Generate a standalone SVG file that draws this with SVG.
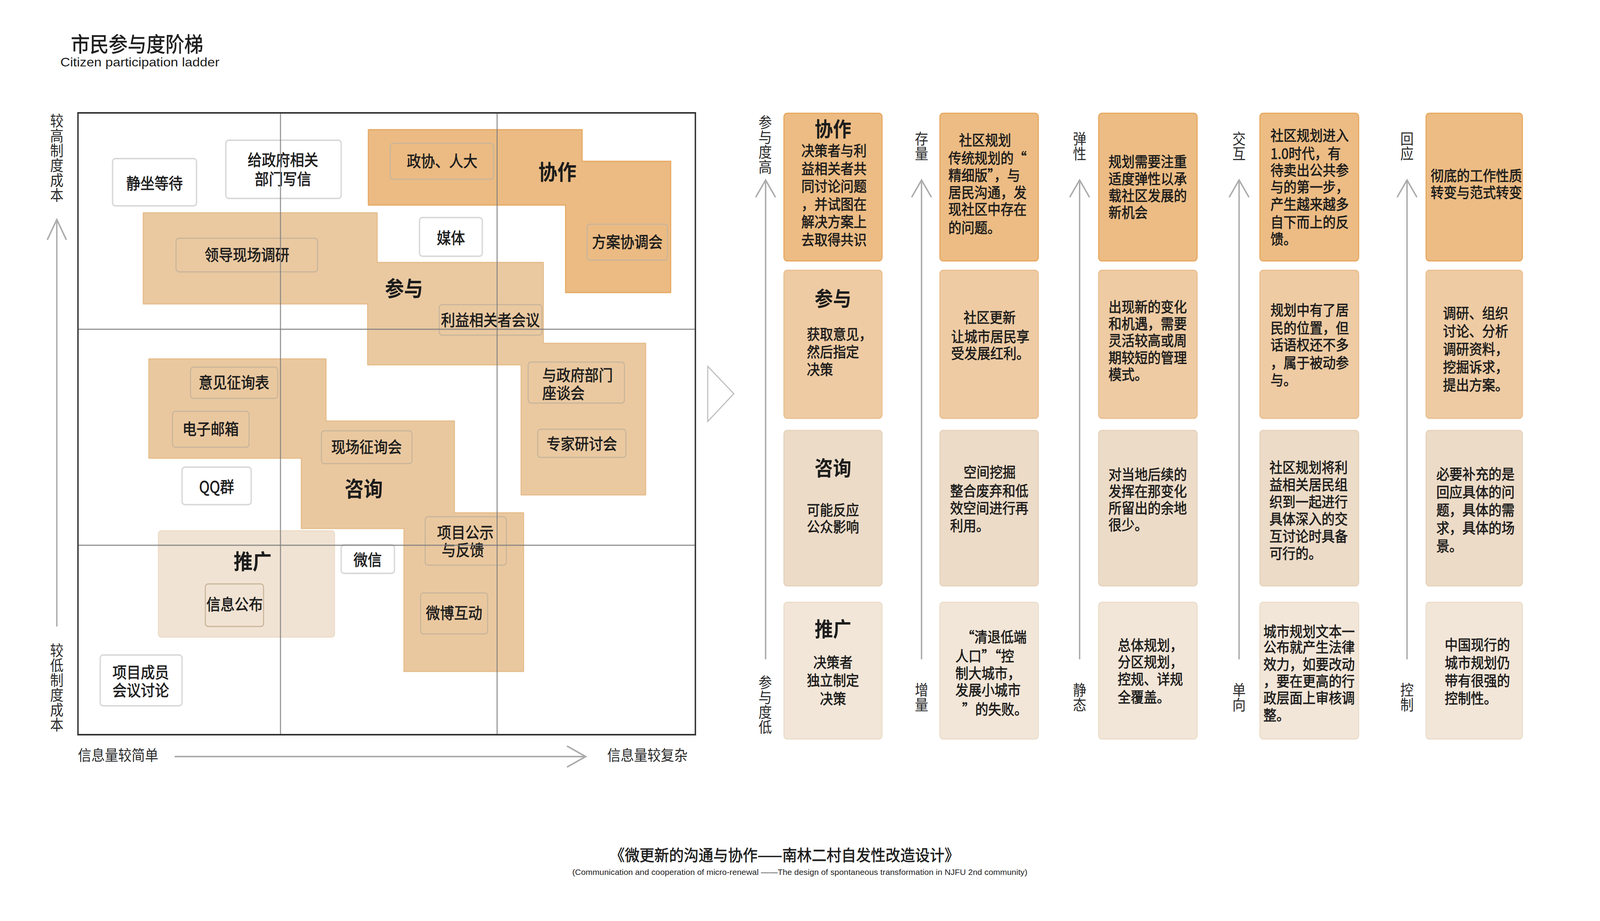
<svg xmlns="http://www.w3.org/2000/svg" width="4535" height="2358" viewBox="0 0 4535 2358" preserveAspectRatio="none">
<style>
svg{width:100vw;height:100vh}
text{font-family:"Noto Sans CJK SC","Noto Sans",sans-serif;fill:#1c1c1c}
.en{font-family:"Liberation Sans","Noto Sans",sans-serif}
.lab{font-size:40px;text-anchor:middle;stroke:#1c1c1c;stroke-width:0.9}
.ls{font-size:40px;stroke:#1c1c1c;stroke-width:0.9}
.ttl{font-size:54px;font-weight:bold;text-anchor:middle}
.rt{font-size:52px;font-weight:bold;text-anchor:middle}
.bd{font-size:37px;stroke:#1c1c1c;stroke-width:0.9}
.bm{font-size:37px;text-anchor:middle;stroke:#1c1c1c;stroke-width:0.9}
.ax{font-size:38px;fill:#2a2a2a}
.vt{writing-mode:vertical-rl;font-size:38px;fill:#2a2a2a}
.m1{fill:#EBBB83;stroke:#E6A862;stroke-width:3;stroke-linejoin:round}
.m2{fill:#EAC9A1;stroke:#E5BC8A;stroke-width:3;stroke-linejoin:round}
.m3{fill:#EAC89F;stroke:#E5BC8A;stroke-width:3;stroke-linejoin:round}
.m4{fill:#F1E3D3;stroke:#EDDCC8;stroke-width:3}
.in{fill:none;stroke:#C9B59B;stroke-width:3}
.wb{fill:#fff;stroke:#DADADA;stroke-width:4}
.r1{fill:#ECBC84;stroke:#E7A75E;stroke-width:3}
.r2{fill:#EECBA3;stroke:#E9BF91;stroke-width:3}
.r3{fill:#ECDBC7;stroke:#E5D3BC;stroke-width:3}
.r4{fill:#F2E6D8;stroke:#EBDDCB;stroke-width:3}
.axl{stroke:#ABABAB;stroke-width:4;fill:none}
.grid{stroke:#7f7f7f;stroke-width:3;opacity:.85}
</style>
<rect width="4535" height="2358" fill="#fff"/>

<g id="title">
<text x="201" y="133" font-size="53" textLength="375" lengthAdjust="spacingAndGlyphs" stroke="#1c1c1c" stroke-width="0.8">市民参与度阶梯</text>
<text class="en" x="171" y="170" font-size="32" textLength="451" lengthAdjust="spacingAndGlyphs">Citizen participation ladder</text>
</g>

<!-- left matrix regions -->
<g id="region-xiezuo">
<path class="m1" d="M1044,332 H1650 V413 H1901 V749 H1603 V525 H1044 Z"/>
<text class="ttl" x="1580" y="461">协作</text>
<rect class="in" x="1106" y="367" width="293" height="92" rx="8"/>
<text class="lab" x="1253" y="427">政协、人大</text>
<rect class="in" x="1664" y="574" width="228" height="92" rx="8"/>
<text class="lab" x="1778" y="634">方案协调会</text>
</g>

<g id="region-canyu">
<path class="m2" d="M406,545 H1069 V672 H1540 V879 H1830 V1267 H1477 V934 H1042 V778 H406 Z"/>
<text class="ttl" x="1145" y="759">参与</text>
<rect class="in" x="499" y="610" width="401" height="86" rx="8"/>
<text class="lab" x="700" y="667">领导现场调研</text>
<rect class="in" x="1245" y="780" width="291" height="78" rx="8"/>
<text class="lab" x="1390" y="834">利益相关者会议</text>
<rect class="in" x="1497" y="927" width="273" height="105" rx="8"/>
<text class="ls"><tspan x="1537" y="975">与政府部门</tspan><tspan x="1537" y="1021">座谈会</tspan></text>
<rect class="in" x="1524" y="1099" width="250" height="72" rx="8"/>
<text class="lab" x="1649" y="1151">专家研讨会</text>
</g>

<g id="region-zixun">
<path class="m3" d="M422,919 H924 V1078 H1288 V1313 H1484 V1719 H1145 V1353 H854 V1173 H422 Z"/>
<text class="ttl" x="1031" y="1272">咨询</text>
<rect class="in" x="540" y="940" width="247" height="80" rx="8"/>
<text class="lab" x="663" y="994">意见征询表</text>
<rect class="in" x="489" y="1053" width="217" height="92" rx="8"/>
<text class="lab" x="597" y="1113">电子邮箱</text>
<rect class="in" x="911" y="1103" width="257" height="84" rx="8"/>
<text class="lab" x="1039" y="1159">现场征询会</text>
<rect class="in" x="1205" y="1323" width="230" height="124" rx="8"/>
<text class="ls"><tspan x="1239" y="1378">项目公示</tspan><tspan x="1252" y="1423">与反馈</tspan></text>
<rect class="in" x="1192" y="1518" width="190" height="105" rx="8"/>
<text class="lab" x="1287" y="1584">微博互动</text>
</g>

<g id="region-tuiguang">
<rect class="m4" x="449" y="1359" width="499" height="272" rx="8"/>
<text class="ttl" x="716" y="1458">推广</text>
<rect class="in" x="582" y="1495" width="165" height="109" rx="8"/>
<text class="lab" x="665" y="1562" font-size="34">信息公布</text>
</g>

<g id="node-jingzuo"><rect class="wb" x="319" y="406" width="238" height="121" rx="8"/><text class="lab" x="438" y="484">静坐等待</text></g>
<g id="node-xiexin"><rect class="wb" x="640" y="359" width="327" height="149" rx="8"/><text class="lab"><tspan x="802" y="424">给政府相关</tspan><tspan x="802" y="473">部门写信</tspan></text></g>
<g id="node-meiti"><rect class="wb" x="1189" y="557" width="178" height="99" rx="8"/><text class="lab" x="1278" y="624">媒体</text></g>
<g id="node-qq"><rect class="wb" x="516" y="1196" width="196" height="96" rx="8"/><text class="lab" x="614" y="1261">QQ群</text></g>
<g id="node-weixin"><rect class="wb" x="967" y="1395" width="151" height="73" rx="8"/><text class="lab" x="1042" y="1448" font-size="34">微信</text></g>
<g id="node-chengyuan"><rect class="wb" x="284" y="1677" width="232" height="130" rx="8"/><text class="lab"><tspan x="399" y="1736">项目成员</tspan><tspan x="399" y="1782">会议讨论</tspan></text></g>

<!-- frame and grid -->
<g id="matrix-frame">
<line class="grid" x1="795" y1="289" x2="795" y2="1881"/>
<line class="grid" x1="1409" y1="289" x2="1409" y2="1881"/>
<line class="grid" x1="221" y1="843" x2="1971" y2="843" stroke-width="4"/>
<line class="grid" x1="221" y1="1396" x2="1971" y2="1396" stroke-width="4"/>
<rect x="221" y="289" width="1750" height="1592" fill="none" stroke="#333" stroke-width="4"/>
</g>

<!-- axis labels -->
<g id="axis-labels-left">
<text class="vt" x="161" y="290" font-size="39">较高制度成本</text>
<text class="vt" x="161" y="1646" font-size="39">较低制度成本</text>
<text class="ax" x="221" y="1947" font-size="40">信息量较简单</text>
<text class="ax" x="1721" y="1947" font-size="40">信息量较复杂</text>
</g>

<g id="connectors">
<line class="axl" x1="161" y1="562" x2="161" y2="1604"/>
<polyline class="axl" points="134,614 161,562 188,614"/>
<line class="axl" x1="495" y1="1937" x2="1658" y2="1937"/>
<polyline class="axl" points="1607,1910 1660,1937 1607,1964"/>
<polygon points="2006,938 2080,1008 2006,1079" fill="none" stroke="#BDBDBD" stroke-width="3"/>
<line class="axl" x1="2170" y1="463" x2="2170" y2="1688"/>
<polyline class="axl" points="2142,505 2170,461 2198,505"/>
<line class="axl" x1="2612" y1="463" x2="2612" y2="1688"/>
<polyline class="axl" points="2584,505 2612,461 2640,505"/>
<line class="axl" x1="3060" y1="463" x2="3060" y2="1688"/>
<polyline class="axl" points="3032,505 3060,461 3088,505"/>
<line class="axl" x1="3512" y1="463" x2="3512" y2="1688"/>
<polyline class="axl" points="3484,505 3512,461 3540,505"/>
<line class="axl" x1="3988" y1="463" x2="3988" y2="1688"/>
<polyline class="axl" points="3960,505 3988,461 4016,505"/>
</g>

<g id="axis-labels-right">
<text class="vt" x="2169" y="294" font-size="37">参与度高</text>
<text class="vt" x="2169" y="1728" font-size="37">参与度低</text>
<text class="vt" x="2612" y="336">存量</text>
<text class="vt" x="2612" y="1747">增量</text>
<text class="vt" x="3060" y="336">弹性</text>
<text class="vt" x="3060" y="1747">静态</text>
<text class="vt" x="3512" y="336">交互</text>
<text class="vt" x="3512" y="1747">单向</text>
<text class="vt" x="3988" y="336">回应</text>
<text class="vt" x="3988" y="1747">控制</text>
</g>

<!-- column 1 -->
<g id="c1r1"><rect class="r1" x="2222" y="290" width="278" height="378" rx="9"/>
<text class="rt" x="2361" y="350">协作</text>
<text class="bm"><tspan x="2364" y="400">决策者与利</tspan><tspan x="2364" y="446">益相关者共</tspan><tspan x="2364" y="491">同讨论问题</tspan><tspan x="2364" y="537">，并试图在</tspan><tspan x="2364" y="582">解决方案上</tspan><tspan x="2364" y="628">去取得共识</tspan></text></g>
<g id="c1r2"><rect class="r2" x="2222" y="692" width="278" height="379" rx="9"/>
<text class="rt" x="2361" y="784">参与</text>
<text class="bd"><tspan x="2287" y="870">获取意见，</tspan><tspan x="2287" y="915">然后指定</tspan><tspan x="2287" y="960">决策</tspan></text></g>
<g id="c1r3"><rect class="r3" x="2222" y="1102" width="278" height="398" rx="9"/>
<text class="rt" x="2361" y="1218">咨询</text>
<text class="bm"><tspan x="2361" y="1320">可能反应</tspan><tspan x="2361" y="1363">公众影响</tspan></text></g>
<g id="c1r4"><rect class="r4" x="2222" y="1542" width="278" height="350" rx="9"/>
<text class="rt" x="2361" y="1630">推广</text>
<text class="bm"><tspan x="2361" y="1710">决策者</tspan><tspan x="2361" y="1756">独立制定</tspan><tspan x="2361" y="1803">决策</tspan></text></g>

<!-- column 2 -->
<g id="c2r1"><rect class="r1" x="2664" y="290" width="279" height="378" rx="9"/>
<text class="bd"><tspan x="2718" y="373">社区规划</tspan><tspan x="2688" y="419">传统规划的“</tspan><tspan x="2688" y="463">精细版”，与</tspan><tspan x="2688" y="507">居民沟通，发</tspan><tspan x="2688" y="550">现社区中存在</tspan><tspan x="2688" y="597">的问题。</tspan></text></g>
<g id="c2r2"><rect class="r2" x="2664" y="692" width="279" height="379" rx="9"/>
<text class="bd"><tspan x="2731" y="827">社区更新</tspan><tspan x="2696" y="876">让城市居民享</tspan><tspan x="2696" y="919">受发展红利。</tspan></text></g>
<g id="c2r3"><rect class="r3" x="2664" y="1102" width="279" height="398" rx="9"/>
<text class="bd"><tspan x="2731" y="1223">空间挖掘</tspan><tspan x="2693" y="1271">整合废弃和低</tspan><tspan x="2693" y="1315">效空间进行再</tspan><tspan x="2693" y="1360">利用。</tspan></text></g>
<g id="c2r4"><rect class="r4" x="2664" y="1542" width="279" height="350" rx="9"/>
<text class="bd"><tspan x="2725" y="1645">“清退低端</tspan><tspan x="2708" y="1694">人口”“控</tspan><tspan x="2708" y="1738">制大城市，</tspan><tspan x="2708" y="1781">发展小城市</tspan><tspan x="2727" y="1830">”的失败。</tspan></text></g>

<!-- column 3 -->
<g id="c3r1"><rect class="r1" x="3114" y="290" width="279" height="378" rx="9"/>
<text class="bd"><tspan x="3142" y="428">规划需要注重</tspan><tspan x="3142" y="472">适度弹性以承</tspan><tspan x="3142" y="515">载社区发展的</tspan><tspan x="3142" y="558">新机会</tspan></text></g>
<g id="c3r2"><rect class="r2" x="3114" y="692" width="279" height="379" rx="9"/>
<text class="bd"><tspan x="3142" y="800">出现新的变化</tspan><tspan x="3142" y="843">和机遇，需要</tspan><tspan x="3142" y="886">灵活较高或周</tspan><tspan x="3142" y="930">期较短的管理</tspan><tspan x="3142" y="973">模式。</tspan></text></g>
<g id="c3r3"><rect class="r3" x="3114" y="1102" width="279" height="398" rx="9"/>
<text class="bd"><tspan x="3142" y="1229">对当地后续的</tspan><tspan x="3142" y="1272">发挥在那变化</tspan><tspan x="3142" y="1315">所留出的余地</tspan><tspan x="3142" y="1358">很少。</tspan></text></g>
<g id="c3r4"><rect class="r4" x="3114" y="1542" width="279" height="350" rx="9"/>
<text class="bd"><tspan x="3168" y="1666">总体规划，</tspan><tspan x="3168" y="1709">分区规划，</tspan><tspan x="3168" y="1753">控规、详规</tspan><tspan x="3168" y="1799">全覆盖。</tspan></text></g>

<!-- column 4 -->
<g id="c4r1"><rect class="r1" x="3571" y="290" width="280" height="378" rx="9"/>
<text class="bd"><tspan x="3601" y="361">社区规划进入</tspan><tspan x="3601" y="407">1.0时代，有</tspan><tspan x="3601" y="450">待卖出公共参</tspan><tspan x="3601" y="493">与的第一步，</tspan><tspan x="3601" y="537">产生越来越多</tspan><tspan x="3601" y="583">自下而上的反</tspan><tspan x="3601" y="626">馈。</tspan></text></g>
<g id="c4r2"><rect class="r2" x="3571" y="692" width="280" height="379" rx="9"/>
<text class="bd"><tspan x="3601" y="808">规划中有了居</tspan><tspan x="3601" y="854">民的位置，但</tspan><tspan x="3601" y="897">话语权还不多</tspan><tspan x="3601" y="943">，属于被动参</tspan><tspan x="3601" y="987">与。</tspan></text></g>
<g id="c4r3"><rect class="r3" x="3571" y="1102" width="280" height="398" rx="9"/>
<text class="bd"><tspan x="3598" y="1211">社区规划将利</tspan><tspan x="3598" y="1255">益相关居民组</tspan><tspan x="3598" y="1299">织到一起进行</tspan><tspan x="3598" y="1343">具体深入的交</tspan><tspan x="3598" y="1387">互讨论时具备</tspan><tspan x="3598" y="1431">可行的。</tspan></text></g>
<g id="c4r4"><rect class="r4" x="3571" y="1542" width="280" height="350" rx="9"/>
<text class="bd"><tspan x="3581" y="1631">城市规划文本一</tspan><tspan x="3581" y="1671">公布就产生法律</tspan><tspan x="3581" y="1715">效力，如要改动</tspan><tspan x="3581" y="1758">，要在更高的行</tspan><tspan x="3581" y="1801">政层面上审核调</tspan><tspan x="3581" y="1845">整。</tspan></text></g>

<!-- column 5 -->
<g id="c5r1"><rect class="r1" x="4042" y="290" width="273" height="378" rx="9"/>
<text class="bd" font-size="35"><tspan x="4055" y="464">彻底的工作性质</tspan><tspan x="4055" y="507">转变与范式转变</tspan></text></g>
<g id="c5r2"><rect class="r2" x="4042" y="692" width="273" height="379" rx="9"/>
<text class="bd"><tspan x="4090" y="816">调研、组织</tspan><tspan x="4090" y="862">讨论、分析</tspan><tspan x="4090" y="908">调研资料，</tspan><tspan x="4090" y="954">挖掘诉求，</tspan><tspan x="4090" y="1000">提出方案。</tspan></text></g>
<g id="c5r3"><rect class="r3" x="4042" y="1102" width="273" height="398" rx="9"/>
<text class="bd"><tspan x="4071" y="1228">必要补充的是</tspan><tspan x="4071" y="1274">回应具体的问</tspan><tspan x="4071" y="1320">题，具体的需</tspan><tspan x="4071" y="1366">求，具体的场</tspan><tspan x="4071" y="1412">景。</tspan></text></g>
<g id="c5r4"><rect class="r4" x="4042" y="1542" width="273" height="350" rx="9"/>
<text class="bd"><tspan x="4095" y="1665">中国现行的</tspan><tspan x="4095" y="1711">城市规划仍</tspan><tspan x="4095" y="1757">带有很强的</tspan><tspan x="4095" y="1802">控制性。</tspan></text></g>

<g id="caption">
<text x="2224" y="2204" font-size="40" text-anchor="middle" textLength="990" lengthAdjust="spacingAndGlyphs" stroke="#1c1c1c" stroke-width="0.8">《微更新的沟通与协作——南林二村自发性改造设计》</text>
<text class="en" x="2267" y="2240" font-size="20" text-anchor="middle" textLength="1290" lengthAdjust="spacingAndGlyphs">(Communication and cooperation of micro-renewal ——The design of spontaneous transformation in NJFU 2nd community)</text>
</g>
</svg>
